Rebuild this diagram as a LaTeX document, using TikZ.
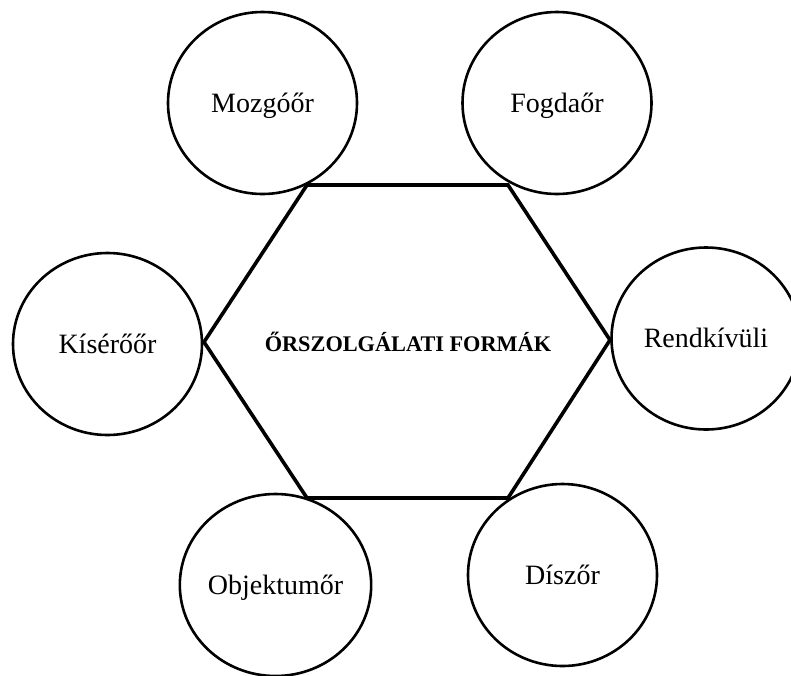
\documentclass[tikz,border=0pt]{standalone}
\usepackage{fontspec}
\setmainfont{Liberation Serif}
\usetikzlibrary{shapes.geometric}
\tikzset{
  guard/.style={ellipse, draw=black, line width=2.6pt, minimum width=189pt, minimum height=182pt, inner sep=0pt,
    font=\fontsize{28}{32}\selectfont, text height=18.5pt, text depth=0pt},
  hexline/.style={draw=black, line width=3.6pt, line join=miter},
  titletext/.style={font=\fontsize{22.3}{26}\selectfont\bfseries, text height=14.8pt, text depth=0pt, inner sep=0pt}
}
\begin{document}
\begin{tikzpicture}[x=1pt,y=-1pt]
\useasboundingbox (0,0) rectangle (791,675);
\fill[white] (0,0) rectangle (791,675);
% hexagon corners
\coordinate (tl) at (307,185);
\coordinate (tr) at (508,185);
\coordinate (r) at (610,340);
\coordinate (br) at (508,498);
\coordinate (bl) at (307,498);
\coordinate (l) at (204,342);
\draw[hexline] (tl) -- (tr) -- (r) -- (br) -- (bl) -- (l) -- cycle;
\node[titletext] (title) at (408,344) {ŐRSZOLGÁLATI FORMÁK};
% circles
\node[guard] (mozgo) at (262.5,103) {Mozgóőr};
\node[guard] (fogda) at (557,103) {Fogdaőr};
\node[guard] (kisero) at (107.5,344) {Kísérőőr};
\node[guard] (rendk) at (706,338.5) {Rendkívüli};
\node[guard] (objekt) at (275.5,585) {Objektumőr};
\node[guard] (disz) at (562.5,575) {Díszőr};
\end{tikzpicture}
\end{document}
